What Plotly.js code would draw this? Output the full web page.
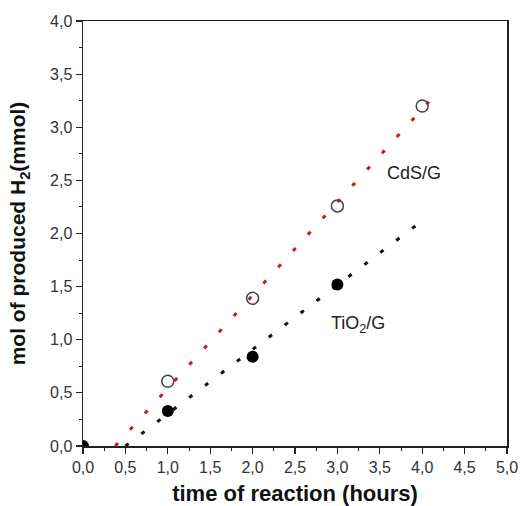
<!DOCTYPE html>
<html>
<head>
<meta charset="utf-8">
<script src="https://cdn.plot.ly/plotly-3.0.1.min.js"></script>
<style>html,body{margin:0;padding:0;background:#fff;}#chart{width:521px;height:506px;}</style>
</head>
<body>
<div id="chart"></div>
<script>
// Data
var timeHours = [1, 2, 3, 4];
var cdsH2 = [0.61, 1.39, 2.26, 3.20];
var tio2Time = [0, 1, 2, 3];
var tio2H2 = [0.0, 0.33, 0.84, 1.52];
// Fit line endpoints (dotted lines)
var cdsFitX = [0.38, 4.08];
var cdsFitY = [0.0, 3.24];
var tio2FitX = [0.50, 4.00];
var tio2FitY = [0.0, 2.12];
var labelCds = "CdS/G";
var labelTio2 = "TiO<sub>2</sub>/G";

var font = "Liberation Sans, Arial, sans-serif";

var traces = [
  {x: cdsFitX, y: cdsFitY, mode: 'lines', line: {color: '#d0161b', width: 3, dash: '4px,18px'}, hoverinfo: 'skip'},
  {x: tio2FitX, y: tio2FitY, mode: 'lines', line: {color: '#111', width: 3, dash: '4px,16px'}, hoverinfo: 'skip'},
  {x: timeHours, y: cdsH2, mode: 'markers', marker: {symbol: 'circle-open', size: 12, color: '#444', line: {width: 1.5, color: '#444'}}},
  {x: tio2Time, y: tio2H2, mode: 'markers', cliponaxis: true, marker: {symbol: 'circle', size: 12, color: '#000'}}
];

var axisCommon = {
  showgrid: false, zeroline: false, showline: true, linecolor: '#222', linewidth: 1.5,
  mirror: true, ticks: 'outside', ticklen: 6, tickwidth: 1.2, tickcolor: '#222',
  tickformat: '.1f', tickfont: {family: font, size: 16, color: '#333'},
  minor: {ticks: 'outside', ticklen: 3, tickwidth: 1, tickcolor: '#222', dtick: 0.25}
};

var layout = {
  width: 521, height: 506,
  margin: {l: 83, r: 14, t: 21, b: 60},
  paper_bgcolor: '#fff', plot_bgcolor: '#fff',
  showlegend: false,
  separators: ',.',
  xaxis: Object.assign({}, axisCommon, {
    range: [0, 5], dtick: 0.5, tick0: 0,
    title: {text: 'time of reaction (hours)', font: {family: font, size: 22, color: '#111', weight: 'bold'}, standoff: 11}
  }),
  yaxis: Object.assign({}, axisCommon, {
    range: [0, 4], dtick: 0.5, tick0: 0,
    title: {text: 'mol of produced H<sub>2</sub>(mmol)', font: {family: font, size: 21, color: '#111', weight: 'bold'}, standoff: 18}
  }),
  annotations: [
    {x: 3.9, y: 2.57, xref: 'x', yref: 'y', text: labelCds, showarrow: false, font: {family: font, size: 18, color: '#222'}},
    {x: 3.24, y: 1.14, xref: 'x', yref: 'y', text: labelTio2, showarrow: false, font: {family: font, size: 18, color: '#222'}}
  ]
};

Plotly.newPlot('chart', traces, layout, {displayModeBar: false, staticPlot: true});
</script>
</body>
</html>
